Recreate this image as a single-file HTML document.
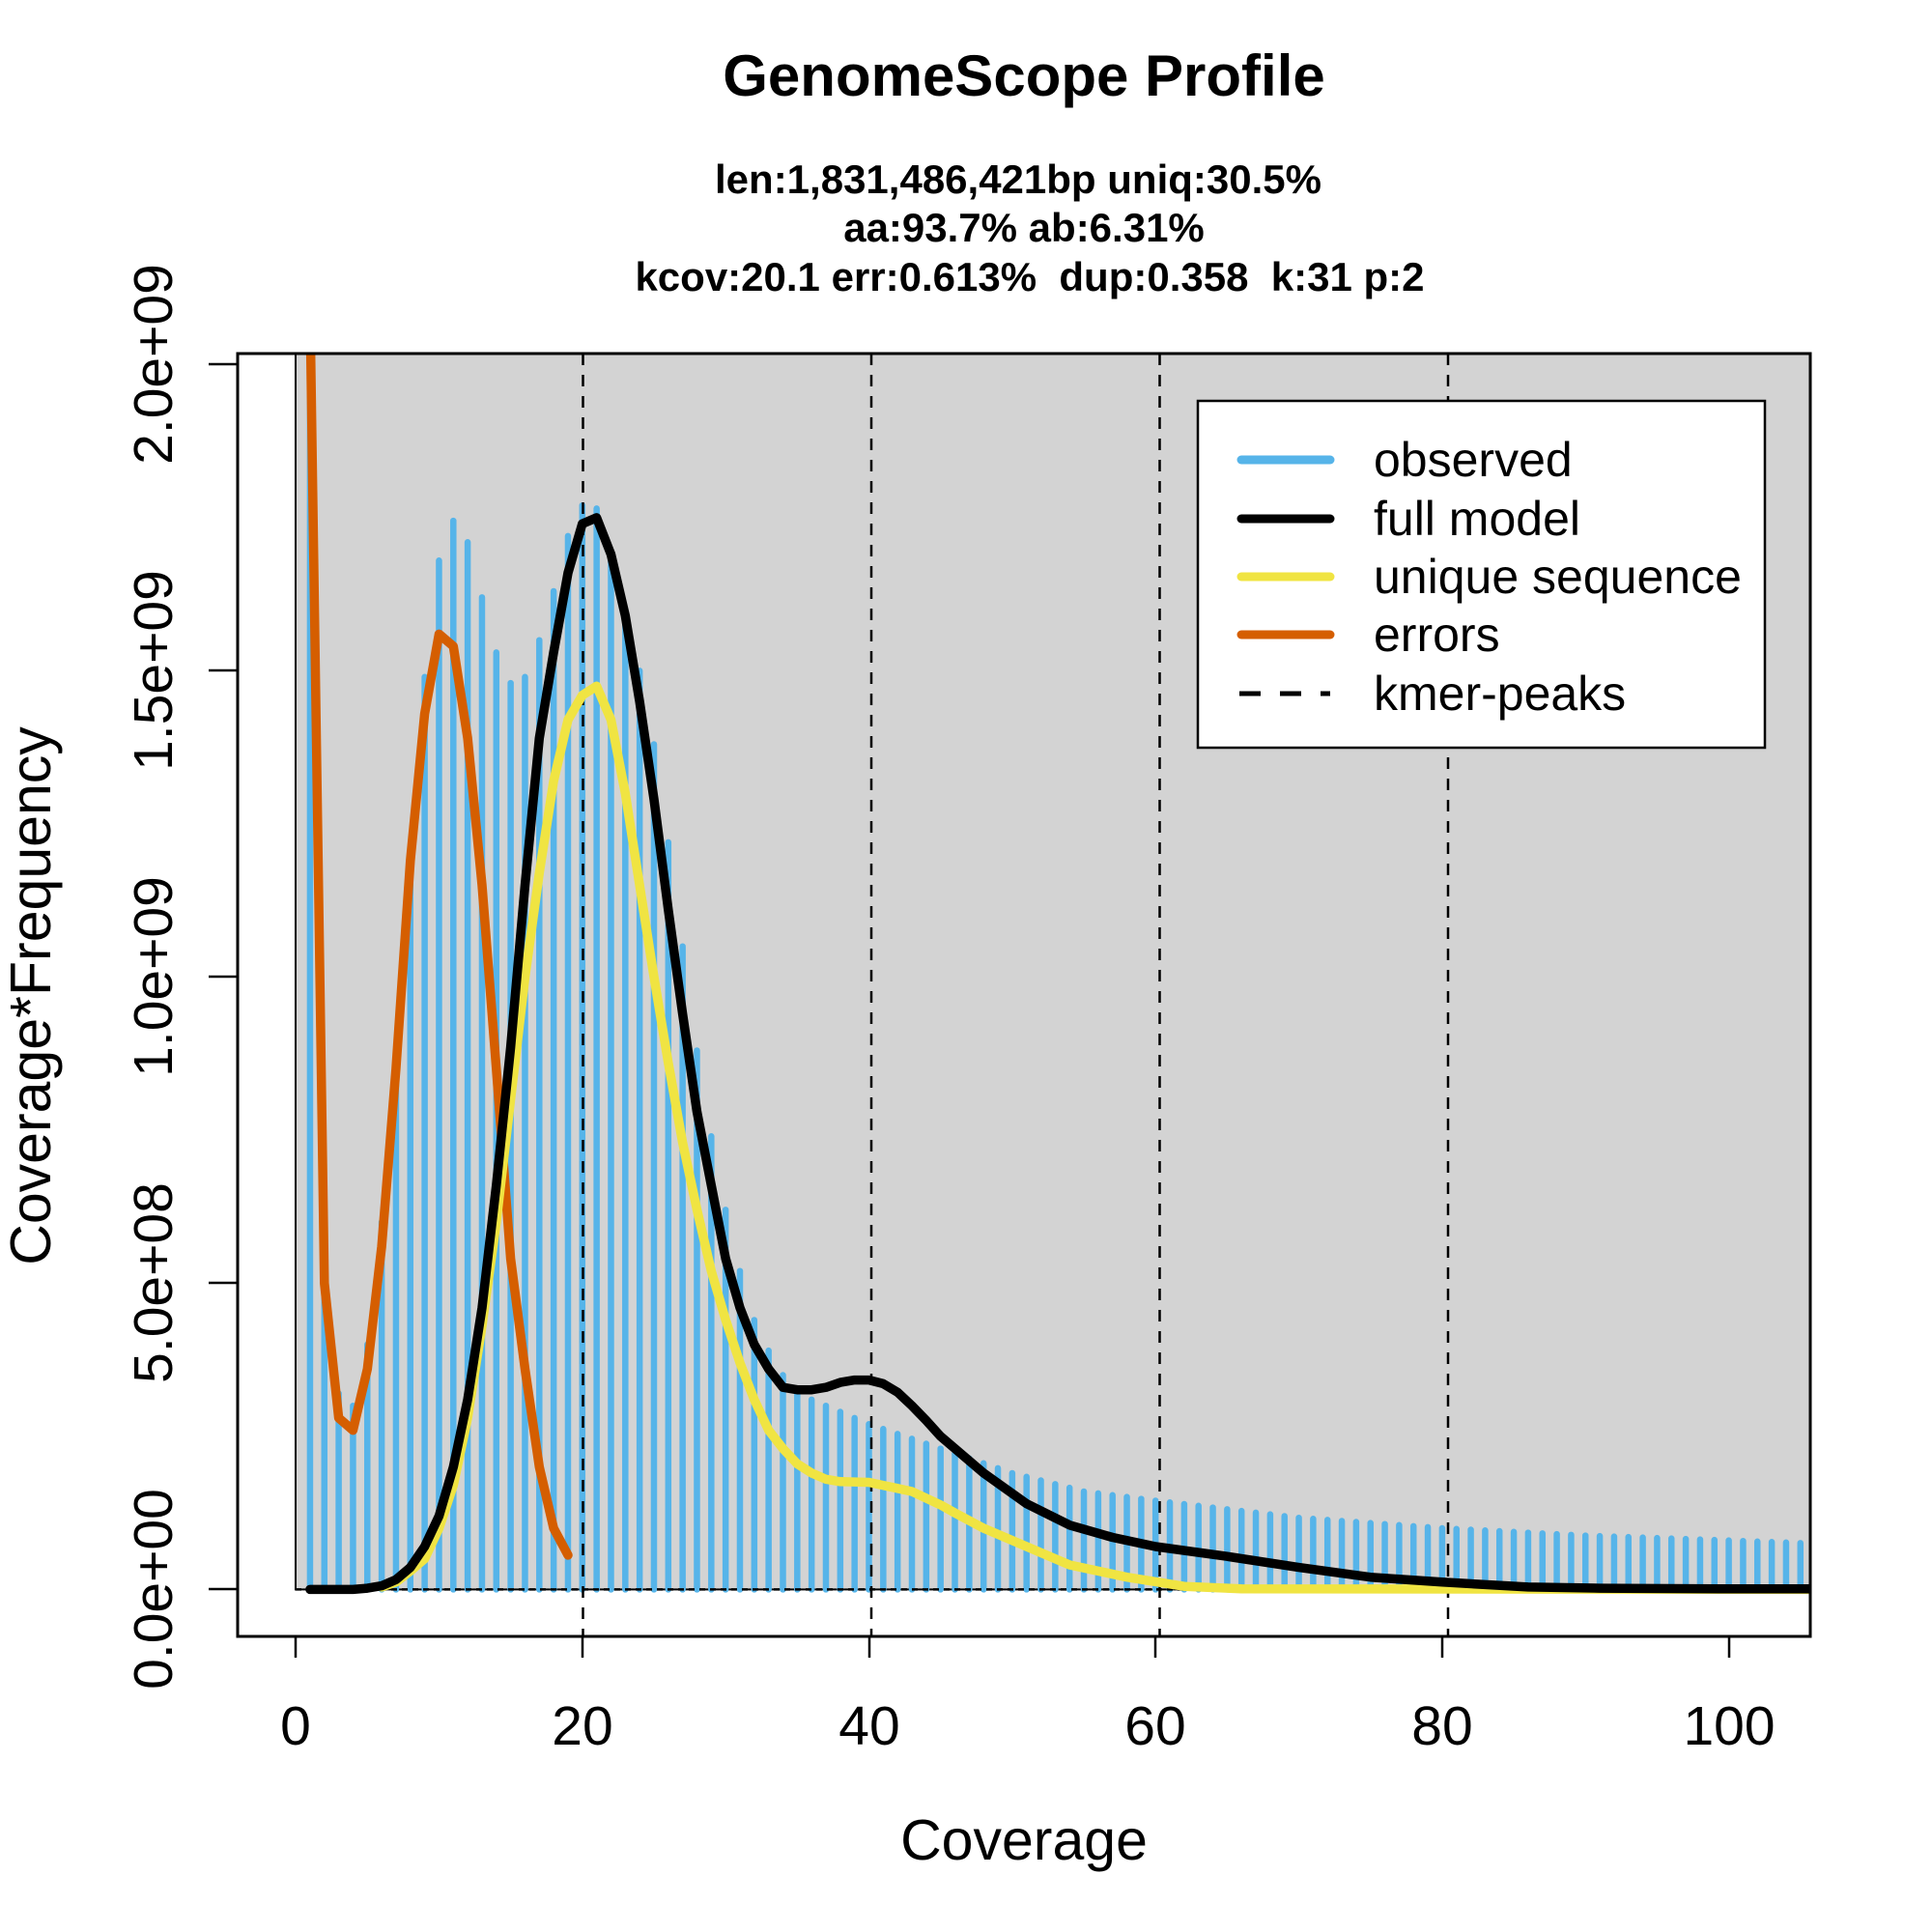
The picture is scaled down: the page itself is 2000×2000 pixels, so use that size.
<!DOCTYPE html>
<html><head><meta charset="utf-8"><style>html,body{margin:0;padding:0;background:#fff}svg{display:block}text{font-family:"Liberation Sans",Arial,sans-serif}</style></head>
<body>
<svg id="s" width="2000" height="2000" viewBox="0 0 2000 2000" xmlns="http://www.w3.org/2000/svg">
<defs><clipPath id="cp"><rect x="246" y="366" width="1628" height="1328"/></clipPath></defs>
<rect x="0" y="0" width="2000" height="2000" fill="#fff"/>
<g clip-path="url(#cp)">
<rect x="306" y="300" width="1700" height="1345.4" fill="#d3d3d3" stroke="#000" stroke-width="2"/>
<g id="bars" stroke="#56B4E9" stroke-width="6.5" stroke-linecap="round"></g>
<line x1="306" y1="1645.4" x2="1874" y2="1645.4" stroke="#000" stroke-width="2.5" stroke-dasharray="6,5"/>
<g stroke="#000" stroke-width="2.5" stroke-dasharray="12,10">
<line x1="603.5" y1="366" x2="603.5" y2="1694"/>
<line x1="902" y1="366" x2="902" y2="1694"/>
<line x1="1200.5" y1="366" x2="1200.5" y2="1694"/>
<line x1="1499" y1="366" x2="1499" y2="1694"/>
</g>
<polyline id="err" fill="none" stroke="#D55E00" stroke-width="9.5" stroke-linejoin="round" stroke-linecap="round"/>
<polyline id="uni" fill="none" stroke="#F0E442" stroke-width="9.5" stroke-linejoin="round" stroke-linecap="round"/>
<polyline id="full" fill="none" stroke="#000" stroke-width="9.5" stroke-linejoin="round" stroke-linecap="round"/>
<rect x="1240" y="415" width="587" height="359" fill="#fff" stroke="#000" stroke-width="2.5"/>
<g stroke-width="9" stroke-linecap="round">
<line x1="1285" y1="476" x2="1377" y2="476" stroke="#56B4E9"/>
<line x1="1285" y1="537" x2="1377" y2="537" stroke="#000"/>
<line x1="1285" y1="597" x2="1377" y2="597" stroke="#F0E442"/>
<line x1="1285" y1="657" x2="1377" y2="657" stroke="#D55E00"/>
<line x1="1283" y1="718" x2="1377" y2="718" stroke="#000" stroke-dasharray="22,20" stroke-width="5" stroke-linecap="butt"/>
</g>
<g font-size="50" fill="#000">
<text x="1422" y="493">observed</text>
<text x="1422" y="554">full model</text>
<text x="1422" y="614">unique sequence</text>
<text x="1422" y="674">errors</text>
<text x="1422" y="735">kmer-peaks</text>
</g>
</g>
<rect x="246" y="366" width="1628" height="1328" fill="none" stroke="#000" stroke-width="3"/>
<g stroke="#000" stroke-width="2.5">
<line x1="306" y1="1694" x2="306" y2="1716"/><line x1="603" y1="1694" x2="603" y2="1716"/><line x1="900" y1="1694" x2="900" y2="1716"/><line x1="1196" y1="1694" x2="1196" y2="1716"/><line x1="1493" y1="1694" x2="1493" y2="1716"/><line x1="1790" y1="1694" x2="1790" y2="1716"/>
<line x1="246" y1="1645" x2="216" y2="1645"/><line x1="246" y1="1328" x2="216" y2="1328"/><line x1="246" y1="1011" x2="216" y2="1011"/><line x1="246" y1="694" x2="216" y2="694"/><line x1="246" y1="377" x2="216" y2="377"/>
</g>
<g font-size="57" text-anchor="middle" fill="#000">
<text x="306" y="1806">0</text><text x="603" y="1806">20</text><text x="900" y="1806">40</text><text x="1196" y="1806">60</text><text x="1493" y="1806">80</text><text x="1790" y="1806">100</text>
<text transform="translate(178,1645) rotate(-90)">0.0e+00</text>
<text transform="translate(178,1328) rotate(-90)">5.0e+08</text>
<text transform="translate(178,1011) rotate(-90)">1.0e+09</text>
<text transform="translate(178,694) rotate(-90)">1.5e+09</text>
<text transform="translate(178,377) rotate(-90)">2.0e+09</text>
<text x="1060" y="1925" font-size="59">Coverage</text>
<text transform="translate(52,1031) rotate(-90)" font-size="59">Coverage*Frequency</text>
<text x="1060" y="99" font-size="60" font-weight="bold">GenomeScope Profile</text>
<text x="1054" y="200" font-size="42" font-weight="bold">len:1,831,486,421bp uniq:30.5%</text>
<text x="1060" y="250" font-size="42" font-weight="bold">aa:93.7% ab:6.31%</text>
<text x="1066" y="301" font-size="42" font-weight="bold" xml:space="preserve">kcov:20.1 err:0.613%  dup:0.358  k:31 p:2</text>
</g>
</svg>
<script>
(function(){
var X=function(c){return 306.1+c*14.835;},Y=function(v){return 1645.4-v*634;};
var obs={1:3,2:0.6,3:0.32,4:0.3,5:0.4,6:0.6,7:0.87,8:1.17,9:1.49,10:1.68,11:1.745,12:1.71,13:1.62,14:1.53,15:1.48,16:1.49,17:1.55,18:1.63,19:1.72,20:1.77,21:1.765,22:1.69,23:1.6,24:1.5,25:1.38,26:1.22,27:1.05,28:0.88,29:0.74,30:0.62,31:0.52,32:0.44,33:0.39,34:0.35,35:0.32,40:0.27,45:0.23,50:0.19,55:0.16,60:0.145,70:0.117,80:0.1,90:0.088,100:0.08,106:0.075};
var keys=Object.keys(obs).map(Number).sort(function(a,b){return a-b});
function interp(t,c){for(var i=0;i<t.length-1;i++){if(c>=t[i][0]&&c<=t[i+1][0]){var f=(c-t[i][0])/(t[i+1][0]-t[i][0]);return t[i][1]+f*(t[i+1][1]-t[i][1]);}}return t[t.length-1][1];}
var ot=keys.map(function(k){return [k,obs[k]];});
var g=document.getElementById('bars'),h='';
for(var c=1;c<=105;c++){var v=interp(ot,c);h+='<line x1="'+X(c)+'" y1="'+Y(0)+'" x2="'+X(c)+'" y2="'+Y(v)+'"/>';}
g.innerHTML=h;
function pts(a){return a.map(function(p){return X(p[0]).toFixed(1)+','+Y(p[1]).toFixed(1);}).join(' ');}
document.getElementById('err').setAttribute('points',pts([[1,2.1],[2,0.5],[3,0.28],[4,0.26],[5,0.36],[6,0.56],[7,0.85],[8,1.19],[9,1.43],[10,1.56],[11,1.54],[12,1.39],[13,1.15],[14,0.85],[15,0.54],[16,0.36],[17,0.2],[18,0.1],[19,0.056]]));
document.getElementById('full').setAttribute('points',pts([[1,0],[4,0],[5,0.002],[6,0.006],[7,0.016],[8,0.036],[9,0.07],[10,0.12],[11,0.2],[12,0.31],[13,0.46],[14,0.66],[15,0.885],[16,1.15],[17,1.39],[18,1.53],[19,1.66],[20,1.74],[21,1.75],[22,1.69],[23,1.59],[24,1.45],[25,1.29],[26,1.11],[27,0.94],[28,0.78],[29,0.66],[30,0.54],[31,0.46],[32,0.4],[33,0.36],[34,0.33],[35,0.326],[36,0.326],[37,0.33],[38,0.338],[39,0.342],[40,0.342],[41,0.336],[42,0.322],[43,0.3],[44,0.276],[45,0.25],[48,0.19],[51,0.14],[54,0.105],[57,0.085],[60,0.07],[65,0.054],[70,0.036],[75,0.02],[80,0.012],[86,0.004],[91,0.002],[100,0.001],[106,0.001]]));
document.getElementById('uni').setAttribute('points',pts([[6,0.004],[7,0.012],[8,0.03],[9,0.05],[10,0.1],[11,0.17],[12,0.28],[13,0.43],[14,0.6],[15,0.8],[16,1.0],[17,1.17],[18,1.32],[19,1.42],[20,1.46],[21,1.475],[22,1.42],[23,1.3],[24,1.15],[25,1.0],[26,0.86],[27,0.73],[28,0.62],[29,0.52],[30,0.44],[31,0.37],[32,0.31],[33,0.26],[34,0.23],[35,0.205],[36,0.19],[37,0.18],[38,0.176],[40,0.175],[42,0.165],[43,0.16],[45,0.138],[46,0.125],[48,0.1],[51,0.07],[54,0.04],[58,0.02],[62,0.005],[66,0.001],[106,0]]));
})();
</script>
</body></html>
